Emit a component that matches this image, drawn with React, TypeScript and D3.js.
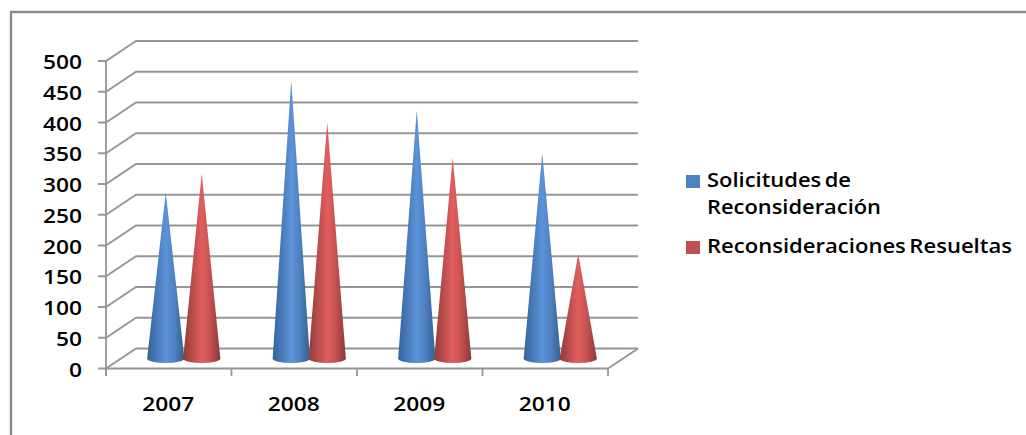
import React from "react";
import * as d3 from "d3";

const years = ["2007", "2008", "2009", "2010"];
const solicitudes = [270, 452, 404, 334];
const resueltas = [301, 384, 327, 170];
const valueTicks = [0, 50, 100, 150, 200, 250, 300, 350, 400, 450, 500];
const legendLabels = ["Solicitudes de", "Reconsideración", "Reconsideraciones Resueltas"];

const width = 1026;
const height = 435;
const grey = "#969696";
const depthX = 30;
const depthY = -20;

const x = d3.scaleBand<string>().domain(years).range([106, 608]);
const y = d3.scaleLinear().domain([0, 500]).range([368.5, 61]);
const seriesOffset = d3.scaleBand<string>().domain(["s", "r"]).range([-36, 36]);

const baseRy = 4.6;
const baseRx = 18.6;

function conePath(cx: number, value: number): string {
  const baseY = y(0) + depthY / 2;
  const tipY = y(value) + depthY / 2;
  const l = cx - baseRx;
  const r = cx + baseRx;
  return `M${l},${baseY}L${cx},${tipY}L${r},${baseY}A${baseRx},${baseRy} 0 0 1 ${l},${baseY}Z`;
}

const font = "'Open Sans', sans-serif";

function Cones({ values, fillId, key2 }: { values: number[]; fillId: string; key2: string }) {
  return (
    <g>
      {years.map((yr, i) => {
        const cx =
          (x(yr) as number) + x.bandwidth() / 2 + depthX / 2 + (seriesOffset(key2) as number) + seriesOffset.bandwidth() / 2;
        return <path key={yr} d={conePath(cx, values[i])} fill={`url(#${fillId})`} />;
      })}
    </g>
  );
}

export default function App() {
  const ticksX = [...years.map((yr) => x(yr) as number), 608];
  return (
    <svg
      width={width}
      height={height}
      style={{ position: "fixed", left: 0, top: 0, background: "#fff" }}
    >
      <defs>
        <linearGradient id="coneBlue" x1="0" x2="1" y1="0" y2="0">
          <stop offset="0" stopColor="#35639c" />
          <stop offset="0.5" stopColor="#5c92d8" />
          <stop offset="0.72" stopColor="#4f82c2" />
          <stop offset="1" stopColor="#34608f" />
        </linearGradient>
        <linearGradient id="coneRed" x1="0" x2="1" y1="0" y2="0">
          <stop offset="0" stopColor="#94393a" />
          <stop offset="0.5" stopColor="#e05f5e" />
          <stop offset="0.72" stopColor="#c65251" />
          <stop offset="1" stopColor="#8f3738" />
        </linearGradient>
      </defs>

      {/* outer frame: open on the right and at the bottom */}
      <path d={`M11,${height}V12H${width}`} fill="none" stroke="#8c8c8c" strokeWidth={2.4} />

      {/* wall gridlines and floor edges */}
      {valueTicks.map((t) => {
        const py = y(t);
        return (
          <g key={t}>
            <path
              d={`M98,${py}H106L${106 + depthX},${py + depthY}H${608 + depthX}`}
              fill="none"
              stroke={grey}
              strokeWidth={1.8}
            />
            <text
              x={82}
              y={py + 8}
              textAnchor="end"
              fontFamily={font}
              fontSize={20}
              fontWeight={600}
              fill="#000"
              textLength={String(t).length * 13}
              lengthAdjust="spacingAndGlyphs"
            >
              {t}
            </text>
          </g>
        );
      })}
      <path
        d={`M106,${y(500)}V376M106,${y(0)}H608L${608 + depthX},${y(0) + depthY}`}
        fill="none"
        stroke={grey}
        strokeWidth={1.8}
      />
      {ticksX.map((tx) => (
        <line key={tx} x1={tx} x2={tx} y1={y(0)} y2={376} stroke={grey} strokeWidth={1.8} />
      ))}

      <Cones values={solicitudes} fillId="coneBlue" key2="s" />
      <Cones values={resueltas} fillId="coneRed" key2="r" />

      {years.map((yr) => (
        <text
          key={yr}
          x={(x(yr) as number) + x.bandwidth() / 2 - 0.5}
          y={411}
          textAnchor="middle"
          fontFamily={font}
          fontSize={20}
          fontWeight={600}
          fill="#000"
          textLength={52}
          lengthAdjust="spacingAndGlyphs"
        >
          {yr}
        </text>
      ))}

      {/* legend */}
      <rect x={686} y={175} width={14} height={13} fill="#4f81bd" />
      <rect x={686} y={241} width={14} height={13} fill="#c0504d" />
      <text x={707} y={187} fontFamily={font} fontSize={20} fontWeight={600} wordSpacing={-2} textLength={144} lengthAdjust="spacingAndGlyphs">
        {legendLabels[0]}
      </text>
      <text x={707} y={214} fontFamily={font} fontSize={20} fontWeight={600} textLength={174} lengthAdjust="spacingAndGlyphs">
        {legendLabels[1]}
      </text>
      <text x={707} y={253} fontFamily={font} fontSize={20} fontWeight={600} wordSpacing={-2} textLength={305} lengthAdjust="spacingAndGlyphs">
        {legendLabels[2]}
      </text>
    </svg>
  );
}
